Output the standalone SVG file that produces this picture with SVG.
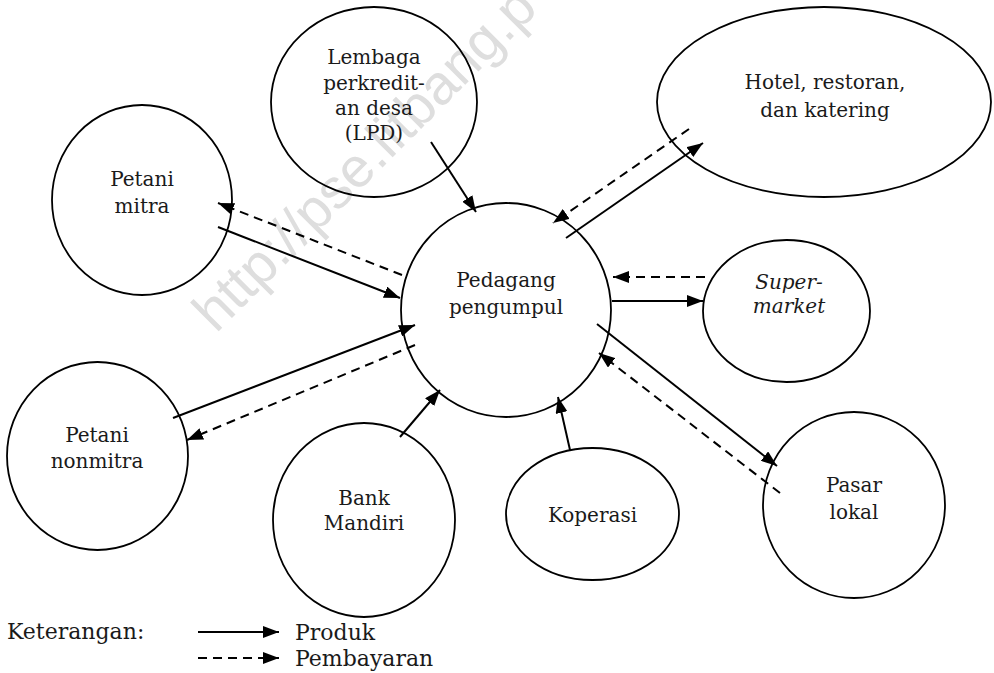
<svg xmlns="http://www.w3.org/2000/svg" width="994" height="673" viewBox="0 0 994 673">
  <style>
    .node { fill: none; stroke: #000; stroke-width: 1.8; }
    .lbl { font-family: "DejaVu Serif", "Liberation Serif", serif; font-size: 20px; fill: #1a1a1a; text-anchor: middle; }
    .it { font-style: italic; }
    .prod { fill: none; stroke: #000; stroke-width: 2; marker-end: url(#head); }
    .pay { fill: none; stroke: #000; stroke-width: 2; stroke-dasharray: 9 6; marker-end: url(#head); }
    .legend { font-family: "DejaVu Serif", "Liberation Serif", serif; font-size: 22px; fill: #1a1a1a; }
    .wm { font-family: "Liberation Sans", Arial, sans-serif; font-size: 56px; fill: #dedede; }
  </style>
  <defs>
    <marker id="head" markerUnits="userSpaceOnUse" markerWidth="16" markerHeight="12" refX="16" refY="6" orient="auto">
      <path d="M0,0 L16,6 L0,12 z" fill="#000"/>
    </marker>
  </defs>

  <rect width="994" height="673" fill="#fff"/>

  <!-- source watermark -->
  <text class="wm" transform="translate(216,334) rotate(-45)">http://pse.litbang.p</text>

  <!-- nodes -->
  <g id="lpd">
    <ellipse class="node" cx="374" cy="102" rx="103" ry="95"/>
    <text class="lbl" x="374" y="64">Lembaga</text>
    <text class="lbl" x="374" y="90">perkredit-</text>
    <text class="lbl" x="374" y="115">an desa</text>
    <text class="lbl" x="374" y="140">(LPD)</text>
  </g>
  <g id="petani-mitra">
    <ellipse class="node" cx="142" cy="200" rx="90" ry="95"/>
    <text class="lbl" x="142" y="186">Petani</text>
    <text class="lbl" x="142" y="213">mitra</text>
  </g>
  <g id="pedagang">
    <ellipse class="node" cx="506" cy="310" rx="105" ry="107"/>
    <text class="lbl" x="506" y="287">Pedagang</text>
    <text class="lbl" x="506" y="314">pengumpul</text>
  </g>
  <g id="horeka">
    <ellipse class="node" cx="824" cy="102" rx="167" ry="95"/>
    <text class="lbl" x="825" y="89">Hotel, restoran,</text>
    <text class="lbl" x="825" y="117">dan katering</text>
  </g>
  <g id="supermarket">
    <ellipse class="node" cx="786.5" cy="311" rx="83.5" ry="71"/>
    <text class="lbl it" x="789" y="289">Super-</text>
    <text class="lbl it" x="789" y="313">market</text>
  </g>
  <g id="pasar-lokal">
    <ellipse class="node" cx="854" cy="505" rx="91" ry="93"/>
    <text class="lbl" x="854" y="492">Pasar</text>
    <text class="lbl" x="854" y="519">lokal</text>
  </g>
  <g id="koperasi">
    <ellipse class="node" cx="592.5" cy="514" rx="86.5" ry="66"/>
    <text class="lbl" x="592.5" y="522">Koperasi</text>
  </g>
  <g id="bank-mandiri">
    <ellipse class="node" cx="364" cy="520" rx="91" ry="97"/>
    <text class="lbl" x="364" y="505">Bank</text>
    <text class="lbl" x="364" y="530">Mandiri</text>
  </g>
  <g id="petani-nonmitra">
    <ellipse class="node" cx="97.5" cy="456" rx="90.5" ry="94"/>
    <text class="lbl" x="97" y="442">Petani</text>
    <text class="lbl" x="97" y="468">nonmitra</text>
  </g>

  <!-- flows: solid = produk, dashed = pembayaran -->
  <g id="connectors">
    <path class="prod" d="M431,142 L476,212"/>
    <path class="prod" d="M566,238 L703,143"/>
    <path class="pay" d="M689,129 L553,223"/>
    <path class="prod" d="M218,227 L400,298"/>
    <path class="pay" d="M402,275 L218,203"/>
    <path class="prod" d="M173,418 L415,325"/>
    <path class="pay" d="M415,345 L187,440"/>
    <path class="prod" d="M400,437 L440,390"/>
    <path class="prod" d="M570,450 L558,397"/>
    <path class="prod" d="M597,324 L777,466"/>
    <path class="pay" d="M780,493 L599,353"/>
    <path class="prod" d="M612,301 L703,301"/>
    <path class="pay" d="M705,277 L613,277"/>
  </g>

  <!-- legend -->
  <g id="legend">
    <text class="legend" x="7" y="639">Keterangan:</text>
    <path class="prod" d="M198,632 L279,632"/>
    <path class="pay" d="M198,658 L279,658"/>
    <text class="legend" x="295" y="640">Produk</text>
    <text class="legend" x="295" y="666">Pembayaran</text>
  </g>
</svg>
